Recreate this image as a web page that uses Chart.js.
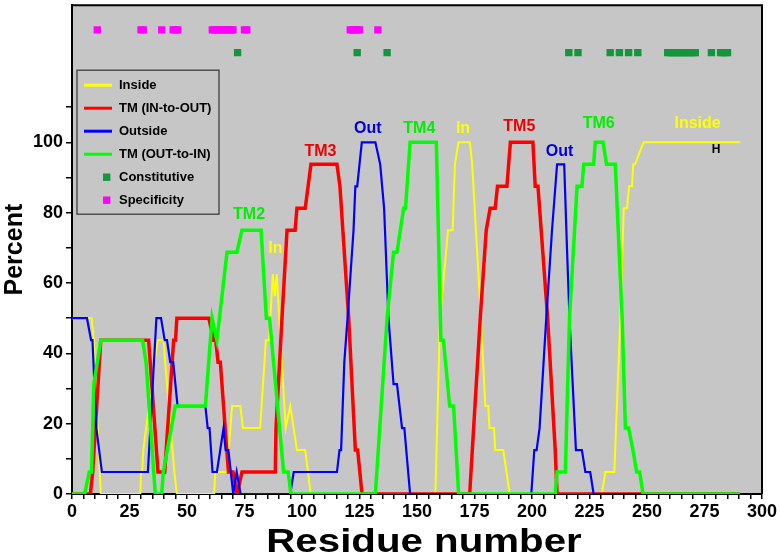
<!DOCTYPE html>
<html>
<head>
<meta charset="utf-8">
<script src="https://cdn.jsdelivr.net/npm/chart.js@4.4.1/dist/chart.umd.min.js"></script>
<style>
  html, body { margin: 0; padding: 0; background: #fff; }
  #wrap { width: 781px; height: 553px; }
</style>
</head>
<body>
<div id="wrap"><canvas id="chart"></canvas></div>
<script>
// [residue, percent] pairs
const insidePts = [[0,50],[8.5,50],[9.5,43.75],[12.5,0],[29.7,0],[30,6.25],[30.5,6.25],[31,12.5],[37.2,43.75],[39.8,43.75],[40.5,37.5],[44.5,6.25],[45.6,0],
  [61.8,0],[62.3,6.25],[67.4,6.25],[69.6,25],[73.2,25],[74.3,18.75],[81.8,18.75],[84.3,43.75],[85.7,43.75],[87.3,62.5],[88.2,56.25],[89,62.5],
  [92.9,18.75],[94.9,25],[97.8,12.5],[101.4,12.5],[103.8,0],[158,0],[160,50],[163.5,75],[165.5,75],[166.5,93.75],[168,100],[173,100],[174,93.75],
  [177.8,50],[179.7,25],[181,25],[181.5,18.75],[183.5,18.75],[184,12.5],[187.5,12.5],[190.3,0],[230.4,0],[231.9,6.25],[235.8,6.25],[238.4,50],
  [239.9,81.25],[241.3,81.25],[242.2,87.5],[243.5,87.5],[244,93.75],[244.8,93.75],[248.5,100],[290.5,100]]
const tmInOutPts = [[0,0],[8,0],[9,6.25],[12.5,43.75],[33.3,43.75],[34,37.5],[37.4,6.25],[40.3,6.25],[44.2,43.75],[45,43.75],[45.6,50],[59.5,50],
  [61.6,43.75],[62.5,43.75],[63.5,37.5],[64.5,37.5],[68,6.25],[70,6.25],[71.8,0],[73.9,6.25],[88.4,6.25],[88.7,18.75],[91.3,50],[93.5,75],[97,75],
  [97.8,81.25],[101.4,81.25],[103.9,93.75],[115.2,93.75],[116.5,87.5],[120.3,50],[123.2,12.5],[124.2,12.5],[126.1,0],[172.9,0],[177.5,50],[180.1,75],
  [181.8,81.25],[184,81.25],[185,87.5],[189.1,87.5],[190.6,100],[200.4,100],[201.4,87.5],[202.6,87.5],[203.3,81.25],[206.8,50],[210.1,12.5],[210.9,0],[290.5,0]]
const outsidePts = [[0,50],[6.5,50],[8.3,43.75],[8.9,43.75],[10.6,18.75],[13,6.25],[33,6.25],[36.7,50],[38.7,50],[40.3,43.75],[41.3,43.75],[42.7,37.5],
  [44,37.5],[45.9,25],[58,25],[59,18.75],[59.8,18.75],[61.1,6.25],[63,6.25],[65.9,18.75],[66.8,12.5],[68,12.5],[70.1,0],[71.6,6.25],[73.3,0],[94.9,0],
  [96.4,6.25],[115.2,6.25],[116.3,12.5],[117,12.5],[118.4,37.5],[119.8,50],[122.4,75],[123.2,87.5],[124,87.5],[126,100],[131.9,100],[134,93.75],
  [135.7,81.25],[137.6,50],[139.8,31.25],[141.3,31.25],[143.5,18.75],[144.5,18.75],[147,0],[199.7,0],[201,12.5],[202,12.5],[203.3,18.75],[206.2,50],
  [208.7,75],[210.9,93.75],[214,93.75],[215.2,70],[216.3,50],[219.1,12.5],[221.7,12.5],[223.2,6.25],[225.3,6.25],[226.8,0],[290.5,0]]
const tmOutInPts = [[0,0],[5.5,0],[7.5,6.25],[8.5,6.25],[9.5,31.25],[12.5,43.75],[30.7,43.75],[32.2,37.5],[36.2,0],[39,0],[39.7,6.25],[44.9,25],[58,25],
  [60.9,50],[63,43.75],[67.4,68.75],[71.7,68.75],[73.9,75],[82.2,75],[84.5,50],[85.9,50],[92,6.25],[94,6.25],[95.2,0],[131.9,0],[137,50],[139.8,68.75],
  [141.3,68.75],[144.2,81.25],[145,81.25],[147,100],[158.4,100],[160.4,43.75],[161.5,43.75],[164.2,25],[165.9,25],[168.1,0],[210.1,0],[210.9,6.25],
  [214.5,6.25],[216.3,50],[219.6,87.5],[221.7,87.5],[222.5,93.75],[226.8,93.75],[227.5,100],[230.9,100],[232.4,93.75],[236.2,93.75],[239.2,50],
  [240.6,18.75],[242,18.75],[243.9,12.5],[245.5,6.25],[246.8,6.25],[248.3,0],[290.5,0]]

// residues marked with squares along the top
const constitutiveRes = [72, 124, 137, 216, 220, 234, 238, 242, 246, 259, 260, 261, 262, 263, 264, 265, 266, 267, 268, 269, 270, 271, 278, 282, 283, 284, 285]
const specificityRes = [11, 30, 31, 39, 44, 45, 46, 61, 62, 63, 64, 65, 66, 67, 68, 69, 70, 75, 76, 121, 122, 123, 124, 125, 133]
const constitutiveLevel = 125.5
const specificityLevel = 132

const xTickLabels = [0, 25, 50, 75, 100, 125, 150, 175, 200, 225, 250, 275, 300]
const yTickLabels = [0, 20, 40, 60, 80, 100]

// region labels: [residue, percent, text, colour]
const regionLabels = [
	[77, 79.5, 'TM2', '#00ee00'],
	[88.4, 69.8, 'In', '#ffff00'],
	[108, 97.5, 'TM3', '#ee0000'],
	[128.6, 104, 'Out', '#0000dd'],
	[151, 104, 'TM4', '#00ee00'],
	[170, 104, 'In', '#ffff00'],
	[194.5, 104.6, 'TM5', '#ee0000'],
	[212, 97.5, 'Out', '#0000dd'],
	[229, 105.4, 'TM6', '#00ee00'],
	[272, 105.4, 'Inside', '#ffff00'],
]

const FONT = "'Liberation Sans', Arial, sans-serif"
const toXY = (pts) => pts.map((p) => ({ x: p[0], y: p[1] }))
const minorX = []
for (let v = 0; v <= 300; v += 5) minorX.push(v)
const minorY = []
for (let v = 0; v <= 110; v += 10) minorY.push(v)

const plotDecor = {
	id: 'plotDecor',
	beforeDraw(chart) {
		const { ctx, chartArea: a } = chart
		ctx.save()
		ctx.fillStyle = '#c6c6c6'
		ctx.fillRect(a.left, a.top, a.right - a.left, a.bottom - a.top)
		ctx.restore()
	},
	beforeDatasetsDraw(chart) {
		const { ctx, chartArea: a } = chart
		ctx.save()
		ctx.strokeStyle = '#000'
		ctx.lineWidth = 2
		ctx.beginPath()
		ctx.moveTo(a.left, a.top)
		ctx.lineTo(a.right, a.top)
		ctx.lineTo(a.right, a.bottom)
		ctx.stroke()
		ctx.restore()
	},
	afterDraw(chart) {
		const { ctx, chartArea: a, scales } = chart
		ctx.save()
		ctx.textAlign = 'center'
		ctx.textBaseline = 'middle'
		ctx.font = 'bold 16px ' + FONT
		regionLabels.forEach((l) => {
			ctx.fillStyle = l[3]
			ctx.fillText(l[2], scales.x.getPixelForValue(l[0]), scales.y.getPixelForValue(l[1]))
		})
		ctx.fillStyle = '#000'
		ctx.font = 'bold 12px ' + FONT
		ctx.fillText('H', scales.x.getPixelForValue(280), scales.y.getPixelForValue(98))

		// wide x axis title, as in the figure
		ctx.save()
		ctx.translate(424, 552)
		ctx.scale(1.22, 1)
		ctx.font = 'bold 33px ' + FONT
		ctx.textBaseline = 'alphabetic'
		ctx.fillText('Residue number', 0, 0)
		ctx.restore()

		// legend box inside the plot
		const bx = a.left + 5, by = a.top + 65, bw = 142, bh = 144
		ctx.strokeStyle = '#333'
		ctx.lineWidth = 1.2
		ctx.strokeRect(bx, by, bw, bh)
		ctx.font = 'bold 13px ' + FONT
		ctx.textAlign = 'left'
		chart.data.datasets.forEach((ds, i) => {
			const ry = by + 15 + i * 23
			if (ds.showLine === false) {
				ctx.fillStyle = ds.backgroundColor
				ctx.fillRect(bx + 26, ry - 3.7, 7.4, 7.4)
			} else {
				ctx.strokeStyle = ds.borderColor
				ctx.lineWidth = 3
				ctx.beginPath()
				ctx.moveTo(bx + 7, ry)
				ctx.lineTo(bx + 35, ry)
				ctx.stroke()
			}
			ctx.fillStyle = '#000'
			ctx.fillText(ds.label, bx + 42, ry)
		})
		ctx.restore()
	},
}

const lineSet = (label, pts, color, width, order) => ({
	label: label,
	data: toXY(pts),
	borderColor: color,
	backgroundColor: color,
	borderWidth: width,
	pointRadius: 0,
	tension: 0,
	order: order,
})

const squareSet = (label, residues, level, color) => ({
	label: label,
	data: residues.map((r) => ({ x: r, y: level })),
	showLine: false,
	pointStyle: 'rect',
	pointRadius: 5.2,
	pointBorderWidth: 0,
	backgroundColor: color,
	borderColor: color,
	order: 0,
})

new Chart(document.getElementById('chart'), {
	type: 'line',
	data: {
		datasets: [
			lineSet('Inside', insidePts, '#ffff00', 2, 4),
			lineSet('TM (IN-to-OUT)', tmInOutPts, '#ff0000', 3.5, 3),
			lineSet('Outside', outsidePts, '#0000ff', 2.2, 2),
			lineSet('TM (OUT-to-IN)', tmOutInPts, '#00ff00', 3.5, 1),
			squareSet('Constitutive', constitutiveRes, constitutiveLevel, '#14963c'),
			squareSet('Specificity', specificityRes, specificityLevel, '#ff00ff'),
		],
	},
	options: {
		responsive: true,
		maintainAspectRatio: false,
		animation: false,
		layout: { padding: { top: 5, right: 19, left: 0, bottom: 0 } },
		plugins: {
			legend: { display: false },
			tooltip: { enabled: false },
		},
		scales: {
			x: {
				type: 'linear',
				min: 0,
				max: 300,
				afterBuildTicks: (s) => { s.ticks = minorX.map((v) => ({ value: v })) },
				afterFit: (s) => {
					s.height = 59
					s.paddingLeft = 0
					s.paddingRight = 0
				},
				ticks: {
					autoSkip: false,
					maxRotation: 0,
					padding: 2,
					color: '#000',
					font: { family: FONT, size: 18, weight: 'bold' },
					callback: (v) => (xTickLabels.includes(v) ? String(v) : ''),
				},
				grid: { drawOnChartArea: false, color: '#000', tickLength: 5, lineWidth: 1.5 },
				border: { color: '#000', width: 2 },
			},
			y: {
				min: 0,
				max: 139,
				afterBuildTicks: (s) => { s.ticks = minorY.map((v) => ({ value: v })) },
				afterFit: (s) => {
					s.width = 72
					s.paddingTop = 0
					s.paddingBottom = 0
				},
				ticks: {
					autoSkip: false,
					padding: 3,
					color: '#000',
					font: { family: FONT, size: 18, weight: 'bold' },
					callback: (v) => (yTickLabels.includes(v) ? String(v) : ''),
				},
				grid: { drawOnChartArea: false, color: '#000', tickLength: 6, lineWidth: 1.5 },
				border: { color: '#000', width: 2 },
				title: {
					display: true,
					text: 'Percent',
					color: '#000',
					padding: 0,
					font: { family: FONT, size: 25, weight: 'bold' },
				},
			},
		},
	},
	plugins: [plotDecor],
})
</script>
</body>
</html>
